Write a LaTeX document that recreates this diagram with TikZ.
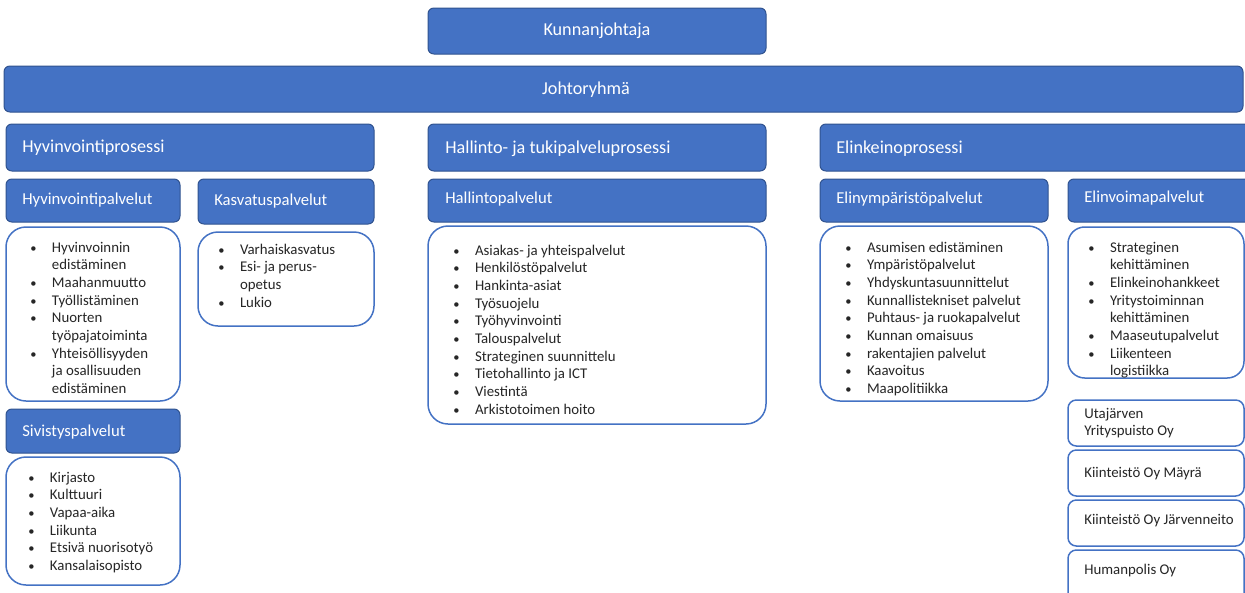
\documentclass[tikz,border=0pt]{standalone}
\usepackage{fontspec}
\setmainfont{Carlito}

\definecolor{boxblue}{HTML}{4472C4}
\definecolor{boxedge}{HTML}{2F528F}
\definecolor{itemgray}{HTML}{262626}

\newcommand{\bl}{\makebox[13pt][l]{\fontsize{7.5}{10.6}\selectfont\textbullet}}

\tikzset{
	procbox/.style={draw=boxedge, fill=boxblue, line width=0.6pt, rounded corners=3.5pt},
	listbox/.style={draw=boxblue, fill=white, line width=0.9pt, rounded corners=12pt},
	firmbox/.style={draw=boxblue, fill=white, line width=0.9pt, rounded corners=5pt},
	headtext/.style={text=white, font=\fontsize{10}{12}\selectfont, inner sep=0pt, anchor=west},
	toptext/.style={headtext, font=\fontsize{10.9}{13}\selectfont},
	itemtext/.style={text=itemgray, font=\fontsize{8.9}{10.6}\selectfont, inner sep=0pt, anchor=base west},
	firmtext/.style={itemtext, anchor=west, align=left},
}

\begin{document}
\begin{tikzpicture}[x=0.6pt, y=-0.6pt]
	\useasboundingbox (0,0) rectangle (1245,592);

	\draw[procbox] (428,8) rectangle (766,54);
	\node[toptext, anchor=center] (kunnanjohtaja) at (597,31) {Kunnanjohtaja};

	\draw[procbox] (4,66) rectangle (1243,112);
	\node[toptext, anchor=center] (johtoryhma) at (586,90) {Johtoryhmä};

	% prosessit
	\draw[procbox] (6,124) rectangle (374,171);
	\node[toptext] (hyvproc) at (22,148) {Hyvinvointiprosessi};

	\draw[procbox] (428,124) rectangle (766,171);
	\node[toptext] (halproc) at (445,149) {Hallinto- ja tukipalveluprosessi};

	\draw[procbox] (820,124) rectangle (1262,171);
	\node[toptext] (elinproc) at (836,149) {Elinkeinoprosessi};

	% palvelut
	\draw[procbox] (6,179) rectangle (180,222);
	\node[headtext] (hyvpal) at (22,200) {Hyvinvointipalvelut};

	\draw[procbox] (198,179) rectangle (374,224);
	\node[headtext] (kaspal) at (214,201) {Kasvatuspalvelut};

	\draw[procbox] (428,179) rectangle (766,222);
	\node[headtext] (halpal) at (445,199) {Hallintopalvelut};

	\draw[procbox] (820,179) rectangle (1048,222);
	\node[headtext] (ympal) at (836,199) {Elinympäristöpalvelut};

	\draw[procbox] (1068,179) rectangle (1262,222);
	\node[headtext] (voimpal) at (1084,198) {Elinvoimapalvelut};

	\draw[procbox] (6,409) rectangle (180,453);
	\node[headtext] (sivpal) at (22,432) {Sivistyspalvelut};

	% tehtävät
	\draw[listbox] (6,227) rectangle (180,401);
	\node[itemtext] (hyvlist) at (30,252) {\begin{tabular}[t]{@{}l@{}l@{}}
		\bl & Hyvinvoinnin\\ & edistäminen\\
		\bl & Maahanmuutto\\
		\bl & Työllistäminen\\
		\bl & Nuorten\\ & työpajatoiminta\\
		\bl & Yhteisöllisyyden\\ & ja osallisuuden\\ & edistäminen
	\end{tabular}};

	\draw[listbox] (198,232) rectangle (374,326);
	\node[itemtext] (kaslist) at (218,254) {\begin{tabular}[t]{@{}l@{}l@{}}
		\bl & Varhaiskasvatus\\
		\bl & Esi- ja perus-\\ & opetus\\
		\bl & Lukio
	\end{tabular}};

	\draw[listbox] (428,226) rectangle (766,424);
	\node[itemtext] (hallist) at (453,255) {\begin{tabular}[t]{@{}l@{}l@{}}
		\bl & Asiakas- ja yhteispalvelut\\
		\bl & Henkilöstöpalvelut\\
		\bl & Hankinta-asiat\\
		\bl & Työsuojelu\\
		\bl & Työhyvinvointi\\
		\bl & Talouspalvelut\\
		\bl & Strateginen suunnittelu\\
		\bl & Tietohallinto ja ICT\\
		\bl & Viestintä\\
		\bl & Arkistotoimen hoito
	\end{tabular}};

	\draw[listbox] (820,226) rectangle (1048,401);
	\node[itemtext] (ymplist) at (845,252) {\begin{tabular}[t]{@{}l@{}l@{}}
		\bl & Asumisen edistäminen\\
		\bl & Ympäristöpalvelut\\
		\bl & Yhdyskuntasuunnittelut\\
		\bl & Kunnallistekniset palvelut\\
		\bl & Puhtaus- ja ruokapalvelut\\
		\bl & Kunnan omaisuus\\
		\bl & rakentajien palvelut\\
		\bl & Kaavoitus\\
		\bl & Maapolitiikka
	\end{tabular}};

	\draw[listbox, rounded corners=10pt] (1068,227) rectangle (1244,378);
	\node[itemtext] (voimlist) at (1088,252) {\begin{tabular}[t]{@{}l@{}l@{}}
		\bl & Strateginen\\ & kehittäminen\\
		\bl & Elinkeinohankkeet\\
		\bl & Yritystoiminnan\\ & kehittäminen\\
		\bl & Maaseutupalvelut\\
		\bl & Liikenteen\\ & logistiikka
	\end{tabular}};

	\draw[listbox] (6,457) rectangle (180,585);
	\node[itemtext] (sivlist) at (28,482) {\begin{tabular}[t]{@{}l@{}l@{}}
		\bl & Kirjasto\\
		\bl & Kulttuuri\\
		\bl & Vapaa-aika\\
		\bl & Liikunta\\
		\bl & Etsivä nuorisotyö\\
		\bl & Kansalaisopisto
	\end{tabular}};

	% yhtiöt
	\draw[firmbox] (1068,400) rectangle (1244,446);
	\node[firmtext] (yrityspuisto) at (1084,423) {Utajärven\\Yrityspuisto Oy};

	\draw[firmbox] (1068,450) rectangle (1244,496);
	\node[firmtext] (mayra) at (1084,474) {Kiinteistö Oy Mäyrä};

	\draw[firmbox] (1068,500) rectangle (1244,546);
	\node[firmtext] (jarvenneito) at (1084,521) {Kiinteistö Oy Järvenneito};

	\draw[firmbox] (1068,550) rectangle (1244,610);
	\node[firmtext] (humanpolis) at (1084,571) {Humanpolis Oy};
\end{tikzpicture}
\end{document}
